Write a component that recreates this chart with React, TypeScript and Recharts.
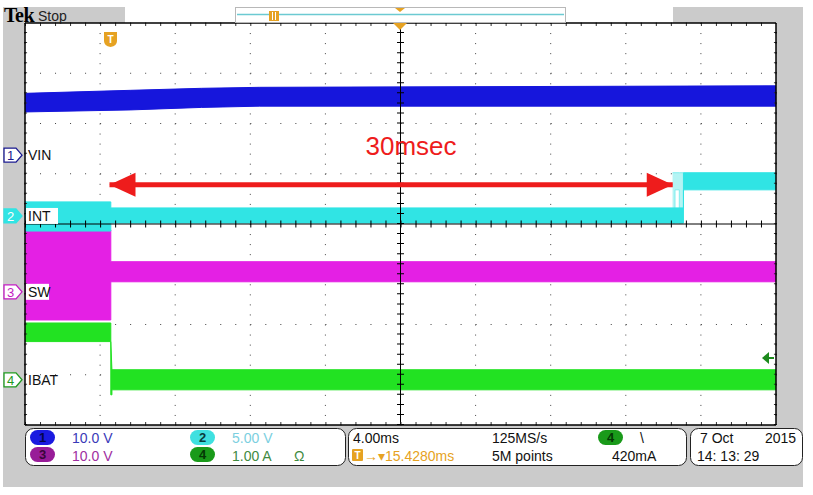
import React from "react";
import { Area, CartesianGrid, ComposedChart, Line, ReferenceLine, XAxis, YAxis } from "recharts";

// screen: 10 div x 8 div, 4 ms/div
const timeTicks = [-16, -12, -8, -4, 0, 4, 8, 12, 16];
const divTicks = [-3, -2, -1, 0, 1, 2, 3];
const TRIG = -15.43; // ms, trigger point

// ch1 VIN, 10 V/div
const vinTime = [-20, -14.4, -10.6, -7.5, 20];
const vinLow = [8.6, 9.0, 9.5, 9.75, 9.75];
const vinHigh = [12.3, 12.9, 13.3, 13.5, 13.8];

// ch2 INT, 5 V/div
const intTime = [-20, TRIG, TRIG, 15.07, 15.07, 20];
const intLow = [-1.5, -1.5, -0.7, -0.7, 2.6, 2.6];
const intHigh = [1.4, 1.4, 0.8, 0.8, 4.3, 4.3];
const intGlitchTime = [14.49, 14.62, 14.62, 14.85, 14.85, 15.07];
const intGlitchLow = [-0.7, -0.7, 2.6, 2.6, -0.7, -0.7];
const intGlitchHigh = [4.3, 4.3, 4.3, 4.3, 4.3, 4.3];

// ch3 SW, 10 V/div
const swTime = [-20, TRIG, TRIG, 20];
const swLow = [-5.6, -5.6, 2.0, 2.0];
const swHigh = [12.3, 12.3, 6.0, 6.0];

// ch4 IBAT, 1 A/div
const ibatTime = [-20, TRIG, TRIG, TRIG + 0.06, TRIG + 0.06, 20];
const ibatLow = [0.76, 0.76, -0.3, -0.3, -0.2, -0.2];
const ibatHigh = [1.13, 1.13, 0.76, 0.2, 0.2, 0.2];

// 30 ms marker arrow
const arrowTime = [-15.5, 14.5];
const arrowLevel = 0.78;

const BLUE = "#1616dc";
const CYAN = "#30e4e4";
const MAGENTA = "#e420e4";
const GREEN = "#22e222";
const RED = "#ee1c1c";
const ORANGE = "#e6a222";
const GRAY = "#cbcbcb";

const ch1 = { scale: 10, offset: 1.37 };
const ch2 = { scale: 5, offset: 0.16 };
const ch3 = { scale: 10, offset: -1.35 };
const ch4 = { scale: 1, offset: -3.1 };

const band = (t: number[], lo: number[], hi: number[], ch: { scale: number; offset: number }) =>
  t.map((v, i) => ({ t: v, band: [ch.offset + lo[i] / ch.scale, ch.offset + hi[i] / ch.scale] }));

const vinData = band(vinTime, vinLow, vinHigh, ch1);
const intData = band(intTime, intLow, intHigh, ch2);
const glitchData = band(intGlitchTime, intGlitchLow, intGlitchHigh, ch2);
const swData = band(swTime, swLow, swHigh, ch3);
const ibatData = band(ibatTime, ibatLow, ibatHigh, ch4);
const arrowData = arrowTime.map((t) => ({ t, y: arrowLevel }));

// pixel helpers for the overlay
const PL = 25, PT = 23, PR = 776, PB = 425;
const divY = (d: number) => (PT + PB) / 2 - d * ((PB - PT) / 8);

const FONT = "'Liberation Sans', Arial, sans-serif";

const ArrowHead = (props: any) => {
  const { cx, cy, index } = props;
  const dir = index === 0 ? 1 : -1;
  const pts = `${cx},${cy} ${cx + dir * 26},${cy - 12} ${cx + dir * 26},${cy + 12}`;
  return <polygon key={index} points={pts} fill={RED} />;
};

function Marker({ y, label, color, filled }: { y: number; label: string; color: string; filled?: boolean }) {
  return (
    <g>
      <path d={`M4 ${y - 7} H16 L22 ${y} L16 ${y + 7} H4 Z`} fill={filled ? color : "#fff"} stroke={color} strokeWidth={1.3} />
      <text x={10.5} y={y + 5} fontSize={13} textAnchor="middle" fill={filled ? "#fff" : color} fontFamily={FONT}>
        {label}
      </text>
    </g>
  );
}

function Pill({ x, y, color, label, textColor }: { x: number; y: number; color: string; label: string; textColor: string }) {
  return (
    <g>
      <rect x={x} y={y} width={25} height={15} rx={7.5} fill={color} />
      <text x={x + 12.5} y={y + 12} fontSize={13} fontWeight="bold" textAnchor="middle" fill={textColor} fontFamily={FONT}>
        {label}
      </text>
    </g>
  );
}

function Overlay() {
  const labels = [
    { y: divY(ch1.offset), name: "VIN", num: "1", color: "#1a1a90", bg: false },
    { y: divY(ch2.offset), name: "INT", num: "2", color: CYAN, bg: true, filled: true },
    { y: divY(ch3.offset), name: "SW", num: "3", color: "#c21cc2", bg: true },
    { y: divY(ch4.offset), name: "IBAT", num: "4", color: "#1f9a1f", bg: false },
  ];
  return (
    <svg width={813} height={495} style={{ position: "absolute", left: 0, top: 0, pointerEvents: "none" }}>
      {/* top strip */}
      <text x={4} y={22} fontFamily="'Liberation Serif', serif" fontWeight="bold" fontSize={20} letterSpacing={-0.5}>Tek</text>
      <text x={38} y={21} fontFamily={FONT} fontSize={14} fill="#222">Stop</text>
      <rect x={235.5} y={7.5} width={330} height={15} fill="#fff" stroke="#b8b8b8" />
      <line x1={237} x2={564} y1={14.5} y2={14.5} stroke="#6ccad2" strokeWidth={1.5} />
      <rect x={269} y={11} width={10} height={10} fill={ORANGE} />
      <line x1={272.5} x2={272.5} y1={12} y2={20} stroke="#fff" />
      <line x1={275.5} x2={275.5} y1={12} y2={20} stroke="#fff" />
      <polygon points="395,8 405,8 400,12" fill={ORANGE} />
      <polygon points="393,23 407,23 400,30" fill={ORANGE} />
      {/* trigger T icon */}
      <path d="M104 32 H117 V41 Q117 46 110.5 47 Q104 46 104 41 Z" fill={ORANGE} />
      <text x={110.5} y={43} fontSize={10} fontWeight="bold" textAnchor="middle" fill="#fff" fontFamily={FONT}>T</text>
      {/* trigger level */}
      <polygon points="762,358 769,352 769,364" fill="#1c8a1c" />
      <line x1={768} x2={774} y1={358} y2={358} stroke="#1c8a1c" strokeWidth={2} />

      {/* channel markers and labels */}
      {labels.map((l) => (
        <g key={l.name}>
          <Marker y={l.y} label={l.num} color={l.color} filled={l.filled} />
          {l.bg && <rect x={26} y={l.y - 8} width={l.name.length * 9 + 5} height={16} fill="#fff" />}
          <text x={28} y={l.y + 5} fontSize={14} fontFamily={FONT} fill="#111">{l.name}</text>
        </g>
      ))}

      {/* 30 ms annotation */}
      <text x={411} y={155} fontSize={26} textAnchor="middle" fill={RED} fontFamily={FONT}>30msec</text>

      {/* info panel */}
      <g fontFamily={FONT} fontSize={14}>
        <rect x={25.5} y={428.5} width={320} height={37} rx={8} fill="#fff" stroke="#222" />
        <rect x={348.5} y={428.5} width={338} height={37} rx={8} fill="#fff" stroke="#222" />
        <rect x={690.5} y={428.5} width={112} height={37} rx={8} fill="#fff" stroke="#222" />

        <Pill x={30} y={430} color="#1a1ae0" label="1" textColor="#05054a" />
        <Pill x={30} y={447} color="#981c98" label="3" textColor="#3a063a" />
        <Pill x={190} y={430} color="#3fe0e0" label="2" textColor="#0a3c3c" />
        <Pill x={190} y={447} color="#1a9a1a" label="4" textColor="#053805" />
        <text x={72} y={443} fill="#3a3ab8">10.0 V</text>
        <text x={72} y={461} fill="#a02ea0">10.0 V</text>
        <text x={232} y={443} fill="#7ccfe0">5.00 V</text>
        <text x={232} y={461} fill="#3f8a3f">1.00 A</text>
        <text x={294} y={461} fill="#3f8a3f">Ω</text>

        <text x={353} y={443} fill="#111">4.00ms</text>
        <rect x={352} y={449} width={11} height={12} rx={1} fill={ORANGE} />
        <text x={357.5} y={459} fontSize={10} fontWeight="bold" textAnchor="middle" fill="#fff">T</text>
        <text x={364} y={461} fill={ORANGE}>→▾15.4280ms</text>
        <text x={492} y={443} fill="#111">125MS/s</text>
        <text x={492} y={461} fill="#111">5M points</text>
        <Pill x={598} y={430} color="#1a9a1a" label="4" textColor="#053805" />
        <text x={640} y={443} fill="#111">\</text>
        <text x={612} y={461} fill="#111">420mA</text>

        <text x={700} y={443} fill="#111">7 Oct</text>
        <text x={765} y={443} fill="#111">2015</text>
        <text x={697} y={461} fill="#111">14: 13: 29</text>
      </g>
    </svg>
  );
}

export default function App() {
  return (
    <div style={{ position: "absolute", left: 0, top: 0, width: 813, height: 495, background: "#fff", overflow: "hidden" }}>
      <div style={{ position: "absolute", left: 3, top: 7, width: 800, height: 480, background: GRAY }} />
      <div style={{ position: "absolute", left: 125, top: 7, width: 548, height: 16, background: "#fff" }} />
      <div style={{ position: "absolute", left: 0, top: 0 }}>
        <ComposedChart width={813} height={495} margin={{ top: PT, left: PL, right: 813 - PR, bottom: 495 - PB }}>
          <XAxis dataKey="t" type="number" domain={[-20, 20]} ticks={timeTicks} hide allowDataOverflow />
          <YAxis type="number" domain={[-4, 4]} ticks={divTicks} hide allowDataOverflow />
          <CartesianGrid fill="#fff" vertical={false} stroke="#444" strokeDasharray="1 14.02" />
          <CartesianGrid horizontal={false} stroke="#444" strokeDasharray="1 9.05" />

          {/* center crosshair with minor ticks */}
          <ReferenceLine x={0} stroke="#000" strokeWidth={1} />
          <ReferenceLine y={0} stroke="#000" strokeWidth={1} />
          <ReferenceLine x={0} stroke="#000" strokeWidth={7} strokeDasharray="1 9.05" />
          <ReferenceLine y={0} stroke="#000" strokeWidth={7} strokeDasharray="1 14.02" />
          {/* frame ticks */}
          <ReferenceLine y={3.97} stroke="#333" strokeWidth={3} strokeDasharray="1 14.02" />
          <ReferenceLine y={-3.97} stroke="#333" strokeWidth={3} strokeDasharray="1 14.02" />
          <ReferenceLine x={-19.97} stroke="#333" strokeWidth={3} strokeDasharray="1 9.05" />
          <ReferenceLine x={19.97} stroke="#333" strokeWidth={3} strokeDasharray="1 9.05" />

          <Area data={vinData} dataKey="band" type="linear" stroke={BLUE} fill={BLUE} fillOpacity={1} strokeWidth={1} dot={false} activeDot={false} isAnimationActive={false} />
          <Area data={swData} dataKey="band" type="linear" stroke={MAGENTA} fill={MAGENTA} fillOpacity={1} strokeWidth={1} dot={false} activeDot={false} isAnimationActive={false} />
          <Area data={glitchData} dataKey="band" type="linear" stroke="#7feeee" fill="#b4f4f4" fillOpacity={1} strokeWidth={1} dot={false} activeDot={false} isAnimationActive={false} />
          <Area data={intData} dataKey="band" type="linear" stroke={CYAN} fill={CYAN} fillOpacity={1} strokeWidth={1} dot={false} activeDot={false} isAnimationActive={false} />
          <Area data={ibatData} dataKey="band" type="linear" stroke={GREEN} fill={GREEN} fillOpacity={1} strokeWidth={1} dot={false} activeDot={false} isAnimationActive={false} />

          <Line data={arrowData} dataKey="y" type="linear" stroke={RED} strokeWidth={5} dot={<ArrowHead />} activeDot={false} isAnimationActive={false} />

          {/* frame */}
          <ReferenceLine x={-20} stroke="#000" strokeWidth={1.5} />
          <ReferenceLine x={20} stroke="#000" strokeWidth={1.5} />
          <ReferenceLine y={4} stroke="#000" strokeWidth={1.5} />
          <ReferenceLine y={-4} stroke="#000" strokeWidth={1.5} />
        </ComposedChart>
      </div>
      <Overlay />
    </div>
  );
}
